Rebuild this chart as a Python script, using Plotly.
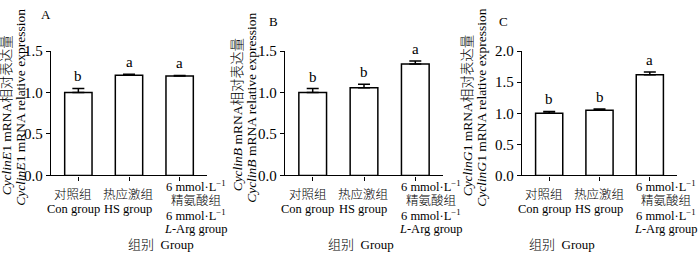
import plotly.graph_objects as go

W, H = 700, 257

# ---------------- data ----------------
categories = ["Con", "HS", "L-Arg"]
cat_lines_short = [["对照组", "Con group"], ["热应激组", "HS group"]]
cat_lines_arg = ["6 mmol·L<sup>−1</sup>", "精氨酸组", "6 mmol·L<sup>−1</sup>", "<i>L</i>-Arg group"]

panel_letters = ["A", "B", "C"]
gene_names = ["CyclinE", "CyclinB", "CyclinG"]
gene_suffix = ["1", "", "1"]

e1_values = [1.00, 1.21, 1.20]
e1_errors = [0.05, 0.012, 0.006]
e1_sig = ["b", "a", "a"]

b_values = [1.00, 1.057, 1.345]
b_errors = [0.048, 0.043, 0.035]
b_sig = ["b", "b", "a"]

g1_values = [1.00, 1.05, 1.62]
g1_errors = [0.03, 0.02, 0.045]
g1_sig = ["b", "b", "a"]

y_max = [1.5, 1.5, 2.0]
x_title = "组别  Group"

panels = [
    (e1_values, e1_errors, e1_sig),
    (b_values, b_errors, b_sig),
    (g1_values, g1_errors, g1_sig),
]

# ---------------- layout geometry (pixels) ----------------
x_dom_px = [(51, 207), (285, 443), (522, 677)]
y_bot_px, y_top_px = 178.5, 46
title_x_px = [(6, 21), (237, 252), (467, 482)]
title_cy_px = (114.5, 106.5)

FONT = "Liberation Serif, 'Times New Roman', 'Noto Sans CJK SC', serif"

def px_x(p):
    return p / W

def px_y(p):
    return 1 - p / H

def tfont(size):
    return dict(family=FONT, size=size, color="black", weight=300)

fig = go.Figure()
annotations = []
layout = dict(
    width=W, height=H,
    margin=dict(l=0, r=0, t=0, b=0),
    paper_bgcolor="white", plot_bgcolor="white",
    showlegend=False,
    font=dict(family=FONT, size=13, color="black"),
)

x_cats = list(range(len(categories)))

for k, (vals, errs, sig) in enumerate(panels):
    xa = "x" if k == 0 else f"x{k+1}"
    ya = "y" if k == 0 else f"y{k+1}"
    fig.add_trace(go.Bar(
        x=x_cats, y=vals, width=0.54,
        marker=dict(color="white", line=dict(color="black", width=1.5)),
        error_y=dict(type="data", symmetric=False, array=errs,
                     arrayminus=[0] * len(errs), color="black",
                     thickness=1.5, width=6),
        xaxis=xa, yaxis=ya, hoverinfo="skip",
    ))
    xkey = "xaxis" if k == 0 else f"xaxis{k+1}"
    ykey = "yaxis" if k == 0 else f"yaxis{k+1}"
    x0, x1 = x_dom_px[k]
    layout[xkey] = dict(
        domain=[px_x(x0), px_x(x1)], range=[-0.54, 2.54], anchor=ya,
        showline=True, linecolor="black", linewidth=1.3,
        tickmode="array", tickvals=x_cats, showticklabels=False,
        ticks="outside", ticklen=4, tickwidth=1.2, tickcolor="black",
        showgrid=False, zeroline=False, fixedrange=True,
    )
    layout[ykey] = dict(
        domain=[px_y(y_bot_px), px_y(y_top_px)], range=[0, y_max[k]], anchor=xa,
        showline=True, linecolor="black", linewidth=1.3,
        tickmode="linear", tick0=0, dtick=0.5, tickformat=".1f",
        ticks="outside", ticklen=4, tickwidth=1.2, tickcolor="black",
        tickfont=dict(family=FONT, size=15, color="black"),
        showgrid=False, zeroline=False, fixedrange=True,
    )

    # significance letters
    for i in x_cats:
        annotations.append(dict(
            x=i, y=vals[i] + errs[i], xref=xa, yref=ya,
            text=sig[i], showarrow=False, yanchor="bottom", yshift=2,
            font=dict(family=FONT, size=15, color="black"),
        ))

    # category labels
    for i, lines in enumerate(cat_lines_short):
        for j, t in enumerate(lines):
            annotations.append(dict(
                x=i, y=px_y([199, 214][j]), xref=xa, yref="paper",
                text=t, showarrow=False, yanchor="middle",
                xshift=[-5, -1][i],
                font=tfont(12.5),
            ))
    for j, t in enumerate(cat_lines_arg):
        annotations.append(dict(
            x=2, y=px_y([190, 206, 221, 236][j]), xref=xa, yref="paper",
            text=t, showarrow=False, yanchor="middle", xshift=16,
            font=tfont(12.5),
        ))

    # x title
    annotations.append(dict(
        x=(px_x(x0) + px_x(x1)) / 2, y=px_y(252), xref="paper", yref="paper",
        text=x_title, showarrow=False, yanchor="middle", xshift=-3,
        font=tfont(13),
    ))

    # y title (two lines, rotated)
    g = f"<i>{gene_names[k]}</i>{gene_suffix[k]}"
    t1x, t2x = title_x_px[k]
    for tx, cy, txt in [(t1x, title_cy_px[0], f"{g} mRNA相对表达量"),
                        (t2x, title_cy_px[1], f"{g} mRNA relative expression")]:
        annotations.append(dict(
            x=px_x(tx), y=px_y(cy), xref="paper", yref="paper",
            text=txt, showarrow=False, textangle=-90,
            xanchor="center", yanchor="middle",
            font=tfont(13.5),
        ))

    # panel letter
    annotations.append(dict(
        x=px_x(x0 - 12), y=px_y(7 if k == 0 else 14), xref="paper", yref="paper",
        text=panel_letters[k], showarrow=False, yanchor="middle",
        font=dict(family=FONT, size=13, color="black"),
    ))

layout["annotations"] = annotations
fig.update_layout(**layout)
fig.write_html(
    "out.html",
    config={"displayModeBar": False},
    post_script="document.body.style.margin='0';document.body.style.overflow='hidden';",
)
